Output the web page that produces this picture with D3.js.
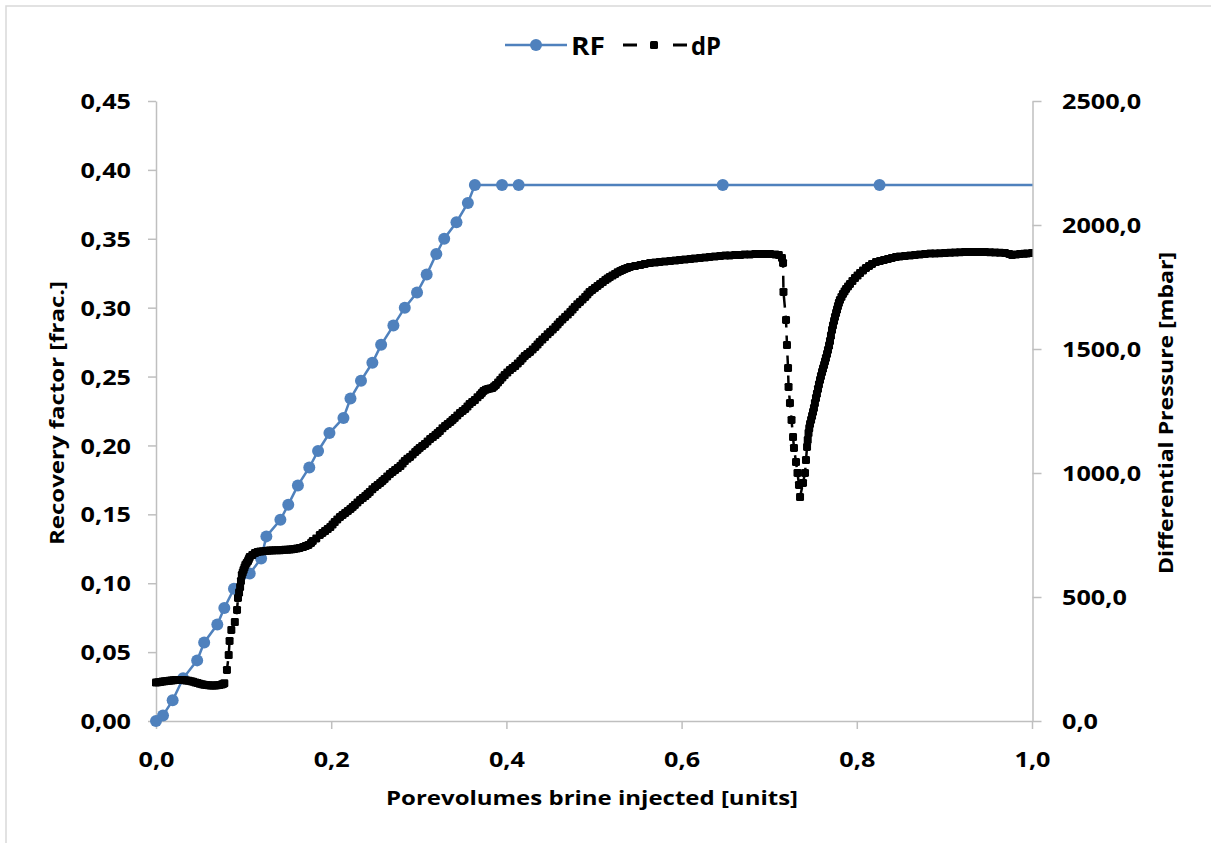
<!DOCTYPE html>
<html><head><meta charset="utf-8">
<script src="https://cdn.jsdelivr.net/npm/d3@7"></script>
<style>body{margin:0;background:#fff;} svg{display:block}</style>
</head><body><svg id="c" width="1211" height="843"></svg>
<script>
// ---------- DATA ----------
const seriesNames = ["RF", "dP"];
const rfX = [0.000,0.008,0.019,0.031,0.047,0.055,0.070,0.078,0.089,0.107,0.120,0.126,0.142,0.151,0.162,0.175,0.185,0.198,0.214,0.222,0.234,0.247,0.257,0.271,0.284,0.298,0.309,0.320,0.329,0.343,0.356,0.364,0.395,0.414,0.647,0.826,1.030];
const rfY = [0.000,0.004,0.015,0.031,0.044,0.057,0.070,0.082,0.096,0.107,0.118,0.134,0.146,0.157,0.171,0.184,0.196,0.209,0.220,0.234,0.247,0.260,0.273,0.287,0.300,0.311,0.324,0.339,0.350,0.362,0.376,0.389,0.389,0.389,0.389,0.389,0.389];
const dpX = [
0.000,0.0025,0.005,0.0075,0.010,0.0125,0.015,0.0175,0.020,0.0225,0.025,0.0275,0.030,0.0325,0.035,0.0375,0.040,0.0425,0.045,0.0475,0.050,0.0525,0.055,0.0575,0.060,0.0625,0.065,0.0675,0.070,0.0725,0.075,0.0765,0.078,
0.081,0.083,0.084,0.086,0.090,0.0925,0.0936,0.0948,0.096,0.097,0.098,0.099,0.100,0.101,0.102,0.1035,0.105,0.106,0.107,0.110,0.113,0.116,0.119,0.122,0.125,0.1275,0.130,0.133,0.136,0.139,0.142,0.1445,0.147,0.150,0.153,0.1555,0.158,0.161,0.164,0.168,0.171,0.174,0.177,0.179,0.183,
0.187,0.190,0.193,0.196,0.199,0.2015,0.204,0.207,0.210,0.213,0.216,0.219,0.222,0.2245,0.227,0.230,0.233,0.236,0.239,0.2415,0.244,0.247,0.250,0.253,0.256,0.2585,0.261,0.264,0.267,0.270,0.273,0.276,0.279,0.2815,0.284,0.287,0.290,0.293,0.296,0.2985,
0.301,0.304,0.307,0.310,0.313,0.316,0.319,0.3215,0.324,0.327,0.330,0.333,0.336,0.3385,0.341,0.344,0.347,0.350,0.353,0.3555,0.358,0.361,0.364,0.367,0.370,0.372,0.374,0.3765,0.379,0.3815,0.384,0.386,0.388,0.3905,0.393,0.3955,0.398,
0.401,0.404,0.407,0.410,0.413,0.416,0.4185,0.421,0.424,0.427,0.430,0.433,0.4355,0.438,0.441,0.444,0.447,0.450,0.453,0.456,0.4585,0.461,0.464,0.467,0.470,0.473,0.4755,0.478,0.481,0.484,0.487,0.490,0.4925,0.495,0.498,
0.501,0.504,0.507,0.510,0.513,0.5155,0.518,0.521,0.524,0.527,0.530,0.5325,0.535,0.538,0.541,0.547,0.553,0.558,0.564,0.570,0.575,0.581,0.587,0.593,0.598,0.604,0.610,0.615,0.621,0.627,0.632,0.638,0.644,0.650,0.655,0.661,0.667,0.672,0.678,0.684,0.690,0.695,0.701,0.707,0.711,0.7146,0.7158,
0.7163,0.7192,0.7203,0.7215,0.7221,0.7237,0.7255,0.7272,0.7283,0.7306,0.7323,0.7340,0.7352,
0.7386,0.7409,0.7420,0.7432,0.7440,0.7449,0.7457,0.7466,0.7478,0.7489,0.7500,0.7511,0.7522,0.7534,0.7545,0.7557,0.7568,0.7580,0.7591,0.7603,0.7614,0.7626,0.7637,0.7648,0.7660,0.7671,0.7683,0.7694,0.7705,0.7717,0.7728,0.7740,0.7751,0.7763,0.7774,0.7785,0.7796,0.7808,0.7825,0.7842,0.7860,0.7877,0.7900,0.7922,0.7950,0.7979,0.8008,0.8037,0.8071,0.8105,0.8140,0.8174,0.8220,0.8265,0.8310,0.8356,0.8400,0.8447,0.8490,0.8550,0.8610,0.8664,0.8720,0.8779,0.8840,0.8893,0.8950,0.9007,0.9064,0.9121,0.9178,0.9235,0.9292,0.9349,0.9406,0.9463,0.9520,0.9578,0.9635,0.9692,0.9740,0.9772,0.9820,0.9863,0.9910,0.9943,1.0000];
const dpY = [
155,156,157,159,160,161,162,163,164,165,165,165,165,164,163,162,160,158,155,153,150,148,146,145,144,143,143,143,144,145,147,149,152,
206,266,323,367,399,448,496,518,540,565,589,599,609,619,629,637,645,653,661,669,677,681,683,684,685,686,687,688,689,689,689,690,691,691,692,693,694,696,698,702,706,710,718,726,736,
750,758,766,774,782,792,802,813,823,831,839,847,855,863,871,881,891,899,907,915,923,934,944,952,960,968,976,986,996,1004,1012,1020,1028,1038,1048,1057,1065,1075,1085,1093,
1101,1109,1117,1127,1137,1145,1153,1161,1169,1180,1190,1198,1206,1214,1222,1232,1242,1250,1258,1268,1278,1286,1294,1305,1315,1323,1331,1336,1339,1341,1343,1349,1355,1365,1375,1385,1395,
1405,1415,1423,1431,1442,1452,1462,1472,1480,1488,1498,1508,1518,1528,1538,1548,1559,1569,1579,1589,1599,1609,1619,1629,1639,1649,1659,1669,1680,1690,1700,1710,1720,1730,1738,
1746,1754,1762,1770,1778,1784,1790,1796,1802,1809,1815,1819,1823,1827,1831,1835,1839,1843,1847,1849,1851,1853,1855,1857,1859,1861,1863,1865,1867,1869,1871,1873,1875,1877,1877,1879,1879,1881,1881,1883,1883,1883,1883,1881,1879,1867,1847,
1730,1617,1516,1423,1347,1282,1214,1145,1101,1044,1000,952,903,
960,1000,1052,1105,1133,1161,1180,1198,1214,1230,1246,1262,1282,1302,1320,1339,1357,1375,1391,1407,1421,1435,1450,1464,1480,1496,1514,1532,1554,1577,1595,1613,1629,1645,1659,1673,1686,1698,1710,1722,1732,1742,1752,1762,1774,1786,1796,1806,1817,1827,1835,1843,1851,1855,1859,1863,1867,1871,1873,1875,1877,1879,1881,1883,1885,1885,1886,1887,1888,1889,1890,1891,1891,1891,1891,1891,1890,1889,1888,1887,1883,1879,1881,1883,1884,1885,1887];
const xTickValues = [0,0.2,0.4,0.6,0.8,1.0];
const xTickLabels = ["0,0","0,2","0,4","0,6","0,8","1,0"];
const rfTickValues = [0,0.05,0.10,0.15,0.20,0.25,0.30,0.35,0.40,0.45];
const rfTickLabels = ["0,00","0,05","0,10","0,15","0,20","0,25","0,30","0,35","0,40","0,45"];
const dpTickValues = [0,500,1000,1500,2000,2500];
const dpTickLabels = ["0,0","500,0","1000,0","1500,0","2000,0","2500,0"];
const xTitle = "Porevolumes brine injected [units]";
const yLeftTitle = "Recovery factor [frac.]";
const yRightTitle = "Differential Pressure [mbar]";

// ---------- LAYOUT ----------
const FONT = "'Open Sans','Noto Sans',sans-serif";
const SX = 1.2;
const blue = "#4F81BD", axisCol = "#BFBFBF";
const svg = d3.select("#c");
svg.append("rect").attr("width",1211).attr("height",843).attr("fill","#fff");
svg.append("rect").attr("x",6).attr("y",6).attr("width",1400).attr("height",1000)
  .attr("fill","none").attr("stroke","#D9D9D9").attr("stroke-width",1.5);

const x = d3.scaleLinear().domain([0,1]).range([156,1032]);
const yL = d3.scaleLinear().domain([0,0.45]).range([721,101]);
const yR = d3.scaleLinear().domain([0,2500]).range([721,101]);

function styleAxis(g){
  g.select(".domain").attr("stroke",axisCol).attr("stroke-width",1.5);
  g.selectAll(".tick line").attr("stroke",axisCol).attr("stroke-width",1.5);
  g.selectAll(".tick text").attr("font-family",FONT).attr("font-weight",700)
    .attr("font-size",21).attr("fill","#000");
}
const gx = svg.append("g").attr("transform","translate(0,721)")
  .call(d3.axisBottom(x).tickValues(xTickValues).tickFormat((d,i)=>xTickLabels[i]).tickSize(8).tickSizeOuter(0));
styleAxis(gx);
gx.selectAll(".tick text").attr("y",0).attr("dy",0)
  .attr("transform","translate(0,46) scale("+SX+",1)");

const gl = svg.append("g").attr("transform","translate(156,0)")
  .call(d3.axisLeft(yL).tickValues(rfTickValues).tickFormat((d,i)=>rfTickLabels[i]).tickSize(8).tickSizeOuter(0));
styleAxis(gl);
gl.selectAll(".tick text").attr("x",0).attr("dy","0.36em")
  .attr("transform","translate(-25,0) scale("+SX+",1)");

const gr = svg.append("g").attr("transform","translate(1032.5,0)")
  .call(d3.axisRight(yR).tickValues(dpTickValues).tickFormat((d,i)=>dpTickLabels[i]).tickSize(9).tickSizeOuter(0));
styleAxis(gr);
gr.selectAll(".tick text").attr("x",0).attr("dy","0.36em")
  .attr("transform","translate(29.5,0) scale("+SX+",1)");

// titles
svg.append("text").attr("x",592).attr("y",805).attr("text-anchor","middle")
  .attr("font-family",FONT).attr("font-weight",700).attr("font-size",20)
  .attr("textLength",412).attr("lengthAdjust","spacingAndGlyphs").text(xTitle);
svg.append("text").attr("transform","translate(64,413) rotate(-90)").attr("text-anchor","middle")
  .attr("font-family",FONT).attr("font-weight",700).attr("font-size",20)
  .attr("textLength",264).attr("lengthAdjust","spacingAndGlyphs").text(yLeftTitle);
svg.append("text").attr("transform","translate(1173,413) rotate(-90)").attr("text-anchor","middle")
  .attr("font-family",FONT).attr("font-weight",700).attr("font-size",20)
  .attr("textLength",322).attr("lengthAdjust","spacingAndGlyphs").text(yRightTitle);

// clip beyond x max
svg.append("clipPath").attr("id","clip").append("rect")
  .attr("x",100).attr("y",60).attr("width",932.5).attr("height",720);

// RF series
const rf = rfX.map((v,i)=>[v,rfY[i]]);
const gRF = svg.append("g").attr("clip-path","url(#clip)");
gRF.append("path").datum(rf).attr("fill","none").attr("stroke",blue).attr("stroke-width",2.5)
  .attr("d",d3.line().x(d=>x(d[0])).y(d=>yL(d[1])));
gRF.selectAll("circle").data(rf).join("circle").attr("cx",d=>x(d[0])).attr("cy",d=>yL(d[1]))
  .attr("r",6).attr("fill",blue);

// dP series
const dp = dpX.map((v,i)=>[v,dpY[i]]);
const gDP = svg.append("g").attr("clip-path","url(#clip)");
gDP.append("path").datum(dp).attr("fill","none").attr("stroke","#000").attr("stroke-width",2.5)
  .attr("stroke-dasharray","12,8")
  .attr("d",d3.line().x(d=>x(d[0])).y(d=>yR(d[1])));
const MS = 8;
gDP.selectAll("rect").data(dp).join("rect").attr("x",d=>x(d[0])-MS/2).attr("y",d=>yR(d[1])-MS/2)
  .attr("width",MS).attr("height",MS).attr("rx",1.4).attr("fill","#000");

// legend
const lg = svg.append("g");
lg.append("line").attr("x1",505).attr("x2",567).attr("y1",45).attr("y2",45).attr("stroke",blue).attr("stroke-width",2.5);
lg.append("circle").attr("cx",536).attr("cy",45).attr("r",6).attr("fill",blue);
lg.append("text").attr("x",571).attr("y",55).attr("font-family",FONT).attr("font-weight",700)
  .attr("font-size",25).attr("textLength",34).attr("lengthAdjust","spacingAndGlyphs").text(seriesNames[0]);
lg.append("line").attr("x1",623).attr("x2",637).attr("y1",45).attr("y2",45).attr("stroke","#000").attr("stroke-width",3);
lg.append("line").attr("x1",673).attr("x2",687).attr("y1",45).attr("y2",45).attr("stroke","#000").attr("stroke-width",3);
lg.append("rect").attr("x",650).attr("y",41).attr("width",8).attr("height",8).attr("rx",1.5).attr("fill","#000");
lg.append("text").attr("x",691).attr("y",55).attr("font-family",FONT).attr("font-weight",700)
  .attr("font-size",25).attr("textLength",30).attr("lengthAdjust","spacingAndGlyphs").text(seriesNames[1]);
</script></body></html>
